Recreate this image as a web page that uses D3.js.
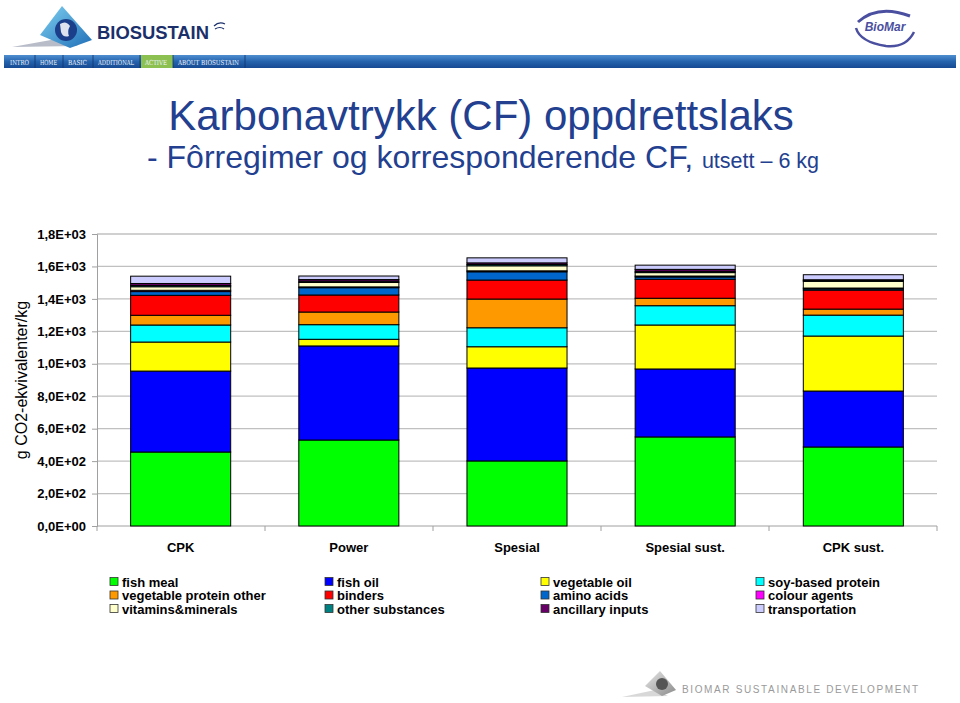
<!DOCTYPE html>
<html><head><meta charset="utf-8">
<script src="https://cdn.jsdelivr.net/npm/d3@7"></script>
<style>
html,body{margin:0;padding:0;background:#fff;}
svg{display:block;font-family:"Liberation Sans",Arial,sans-serif;}
</style></head>
<body>
<svg id="c" width="960" height="703"></svg>
<script>
// ---------- data ----------
const categories = ["CPK", "Power", "Spesial", "Spesial sust.", "CPK sust."];
const seriesNames = ["fish meal","fish oil","vegetable oil","soy-based protein","vegetable protein other","binders","amino acids","colour agents","vitamins&minerals","other substances","ancillary inputs","transportation"];
const seriesColors = ["#00FF00","#0000FF","#FFFF00","#00FFFF","#FF9900","#FF0000","#0066CC","#FF00FF","#FFFFCC","#008080","#660066","#CCCCFF"];
const fishMeal     = [456, 530, 401, 549, 487];
const fishOil      = [499, 580, 573, 419, 345];
const vegetableOil = [179, 41, 131, 271, 339];
const soyProtein   = [105, 90, 117, 119, 129];
const vegProtOther = [60, 78, 177, 46, 37];
const binders      = [123, 105, 117, 117, 117];
const aminoAcids   = [23, 45, 51, 14, 8];
const colourAgents = [8, 5, 6, 6, 5];
const vitamins     = [22, 27, 31, 21, 41];
const otherSubst   = [8, 8, 8, 8, 5];
const ancillary    = [12, 10, 10, 12, 5];
const transport    = [45, 22, 31, 26, 31];
const seriesValues = [fishMeal, fishOil, vegetableOil, soyProtein, vegProtOther, binders, aminoAcids, colourAgents, vitamins, otherSubst, ancillary, transport];
const yTickValues = [0, 200, 400, 600, 800, 1000, 1200, 1400, 1600, 1800];
const yTickLabels = ["0,0E+00","2,0E+02","4,0E+02","6,0E+02","8,0E+02","1,0E+03","1,2E+03","1,4E+03","1,6E+03","1,8E+03"];
const navItems = ["INTRO","HOME","BASIC","ADDITIONAL","ACTIVE","ABOUT BIOSUSTAIN"];

// ---------- setup ----------
const svg = d3.select("#c");
const defs = svg.append("defs");

const ng = defs.append("linearGradient").attr("id","nav").attr("x1",0).attr("y1",0).attr("x2",0).attr("y2",1);
ng.append("stop").attr("offset","0%").attr("stop-color","#4f8fd0");
ng.append("stop").attr("offset","50%").attr("stop-color","#2563ad");
ng.append("stop").attr("offset","100%").attr("stop-color","#164a92");
const pg = defs.append("linearGradient").attr("id","pyr").attr("x1",0).attr("y1",0).attr("x2",1).attr("y2",1);
pg.append("stop").attr("offset","0%").attr("stop-color","#7fd0f0");
pg.append("stop").attr("offset","100%").attr("stop-color","#1f6fb8");
const gg = defs.append("linearGradient").attr("id","gpyr").attr("x1",0).attr("y1",0).attr("x2",1).attr("y2",1);
gg.append("stop").attr("offset","0%").attr("stop-color","#e8e8e8");
gg.append("stop").attr("offset","100%").attr("stop-color","#8a8a8a");

// ---------- header ----------
const hdr = svg.append("g");
hdr.append("path").attr("d","M12,47 L62,38 L78,46 Z").attr("fill","#b8bcc8");
hdr.append("path").attr("d","M40,35 L62,6 L92,40 L70,48 Z").attr("fill","url(#pyr)");
hdr.append("circle").attr("cx",66).attr("cy",30).attr("r",11).attr("fill","#1b3f8a");
hdr.append("path").attr("d","M60,24 q6,-4 10,2 q-3,5 -1,10 q-6,2 -8,-4 z").attr("fill","#ffffff").attr("opacity",0.85);
hdr.append("text").attr("x",97).attr("y",39).attr("font-size",18).attr("font-weight","bold")
  .attr("fill","#1b2f6b").attr("textLength",112).attr("lengthAdjust","spacingAndGlyphs").text("BIOSUSTAIN");
hdr.append("path").attr("d","M214,26 q5,-5 11,-2 M215,29 q5,-3 9,0").attr("stroke","#1b2f6b").attr("fill","none").attr("stroke-width",1.2);

// BioMar logo
const bm = svg.append("g");
bm.append("path").attr("d","M858,22 q20,-18 52,-6").attr("stroke","#4b4fa0").attr("stroke-width",3).attr("fill","none");
bm.append("path").attr("d","M856,28 q4,14 30,18 q20,2 28,-14").attr("stroke","#4b4fa0").attr("stroke-width",2.5).attr("fill","none");
bm.append("text").attr("x",885).attr("y",31).attr("text-anchor","middle").attr("font-size",12).attr("font-weight","bold")
  .attr("font-style","italic").attr("fill","#4b4fa0").text("BioMar");

// nav bar
svg.append("rect").attr("x",4).attr("y",55).attr("width",952).attr("height",13).attr("fill","url(#nav)");
const navX = [[5,35],[35,63],[63,93],[93,140],[140,173],[173,245]];
navItems.forEach((t,i)=>{
  const [a,b] = navX[i];
  if (t === "ACTIVE") svg.append("rect").attr("x",a+1).attr("y",55).attr("width",b-a-1).attr("height",13).attr("fill","#8cc152");
  svg.append("line").attr("x1",b).attr("x2",b).attr("y1",55).attr("y2",68).attr("stroke","#0d3470").attr("stroke-width",0.8);
  svg.append("text").attr("x",a+5).attr("y",65).attr("font-size",7)
    .attr("textLength",b-a-11).attr("lengthAdjust","spacingAndGlyphs")
    .attr("font-family","'DejaVu Serif',serif").attr("fill","#f2f4fa").text(t);
});

// ---------- titles ----------
svg.append("text").attr("x",481).attr("y",130).attr("text-anchor","middle").attr("font-size",42)
  .attr("fill","#22408f").text("Karbonavtrykk (CF) oppdrettslaks");
const st = svg.append("text").attr("x",147).attr("y",168).attr("font-size",32).attr("fill","#22408f");
st.append("tspan").text("- Fôrregimer og korresponderende CF, ");
st.append("tspan").attr("font-size",21.5).text("utsett – 6 kg");

// ---------- chart ----------
const x = d3.scaleBand().domain(categories).range([97, 937]).paddingInner(0.405).paddingOuter(0.2);
const y = d3.scaleLinear().domain([0, 1800]).range([526, 234]);

svg.append("g").selectAll("line").data(yTickValues.filter(v=>v>0)).join("line")
  .attr("x1",97).attr("x2",937).attr("y1",d=>y(d)).attr("y2",d=>y(d))
  .attr("stroke","#c0c0c0").attr("stroke-width",1.3);

const yAxis = d3.axisLeft(y).tickValues(yTickValues).tickSize(5).tickPadding(6)
  .tickFormat((d,i)=>yTickLabels[i]);
const ya = svg.append("g").attr("transform","translate(97,0)").call(yAxis);
ya.select(".domain").attr("stroke","#a0a0a0");
ya.selectAll(".tick line").attr("stroke","#a0a0a0");
ya.selectAll(".tick text").attr("font-size",13).attr("font-weight","bold").attr("fill","#000")
  .attr("font-family","'Liberation Sans',Arial,sans-serif");

const xa = svg.append("g").attr("transform","translate(0,526)");
xa.append("line").attr("x1",97).attr("x2",937).attr("stroke","#a0a0a0");
d3.range(categories.length+1).forEach(i=>{
  const bx = 97 + i*(840/categories.length);
  xa.append("line").attr("x1",bx).attr("x2",bx).attr("y1",0).attr("y2",5).attr("stroke","#a0a0a0");
});
xa.selectAll("text.cat").data(categories).join("text").attr("class","cat")
  .attr("x",d=>x(d)+x.bandwidth()/2).attr("y",26).attr("text-anchor","middle")
  .attr("font-size",13).attr("font-weight","bold").text(d=>d);

svg.append("text").attr("transform","translate(27,380) rotate(-90)").attr("text-anchor","middle")
  .attr("font-size",16).text("g CO2-ekvivalenter/kg");

const table = categories.map((c,ci)=>{
  const o = {cat:c};
  seriesNames.forEach((s,si)=>{ o[s] = seriesValues[si][ci]; });
  return o;
});
const stacked = d3.stack().keys(seriesNames)(table);
const bars = svg.append("g");
stacked.forEach((layer,li)=>{
  bars.append("g").selectAll("rect").data(layer).join("rect")
    .attr("x",d=>x(d.data.cat)).attr("width",x.bandwidth())
    .attr("y",d=>y(d[1])).attr("height",d=>y(d[0])-y(d[1]))
    .attr("fill",seriesColors[li]).attr("stroke","#000").attr("stroke-width",1);
});

// ---------- legend ----------
const legX = [110, 325, 541, 756];
const legY = [582, 595.5, 609];
const leg = svg.append("g");
seriesNames.forEach((s,i)=>{
  const col = i % 4, row = Math.floor(i/4);
  const g = leg.append("g").attr("transform",`translate(${legX[col]},${legY[row]})`);
  g.append("rect").attr("x",0).attr("y",-4.5).attr("width",8).attr("height",8)
    .attr("fill",seriesColors[i]).attr("stroke","#333").attr("stroke-width",0.8);
  g.append("text").attr("x",12).attr("y",4.5).attr("font-size",13).attr("font-weight","bold").text(s);
});

// ---------- footer ----------
const ft = svg.append("g");
ft.append("path").attr("d","M622,697 L655,690 L668,696 Z").attr("fill","#d8d8d8");
ft.append("path").attr("d","M645,686 L660,671 L676,690 L662,696 Z").attr("fill","url(#gpyr)");
ft.append("circle").attr("cx",662).attr("cy",684).attr("r",6).attr("fill","#555");
ft.append("text").attr("x",682).attr("y",693).attr("font-size",10).attr("textLength",236).attr("lengthAdjust","spacing")
  .attr("fill","#9a9a9a").text("BIOMAR SUSTAINABLE DEVELOPMENT");
</script>
</body></html>
